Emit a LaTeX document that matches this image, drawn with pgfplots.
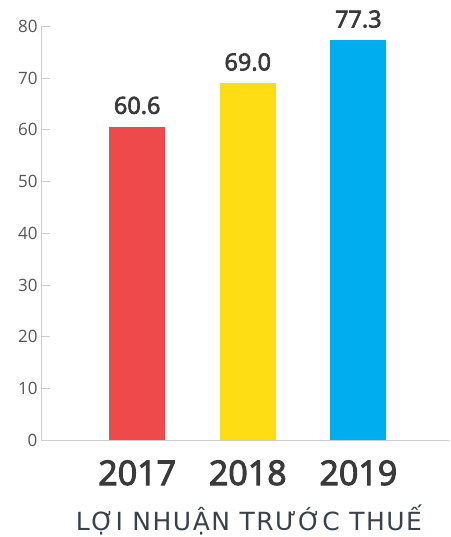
\documentclass[border=0pt]{standalone}
\usepackage{fontspec}
\setmainfont{Open Sans}
\newfontfamily\sbfont{Open Sans}[FakeBold=3]
\newfontfamily\ttlfont{DejaVu Sans}[LetterSpace=6]
\usepackage{pgfplots}
\pgfplotsset{compat=1.18}
\definecolor{cred}{HTML}{EF4A4B}
\definecolor{cyel}{HTML}{FFDD15}
\definecolor{cblue}{HTML}{00AEEF}
\definecolor{axgray}{HTML}{CCCCCC}
\definecolor{tickgray}{HTML}{555555}
\definecolor{txt}{HTML}{3A3A3A}
\definecolor{ttl}{HTML}{3B4148}
\begin{document}
\begin{tikzpicture}
\begin{axis}[
  at={(0pt,0pt)}, anchor=south west,
  scale only axis, width=408pt, height=413.5pt,
  xmin=-0.87, xmax=2.82, ymin=0, ymax=80,
  axis lines*=left,
  axis line style={axgray, line width=0.8pt},
  ytick={0,10,...,80},
  xtick={0,1,2}, xticklabels={2017,2018,2019},
  tick align=inside,
  major tick length=9pt,
  tick style={axgray, line width=0.8pt},
  x tick style={draw=none},
  /pgf/number format/assume math mode=true,
  yticklabel style={font=\fontsize{17}{17}\selectfont, text=tickgray},
  xticklabel style={font=\fontsize{34}{34}\selectfont\sbfont, text=txt, anchor=base, yshift=-36pt},
  ybar, bar width=56pt,
  nodes near coords,
  nodes near coords style={font=\fontsize{23.5}{23.5}\selectfont\sbfont, text=txt, anchor=base, yshift=13pt,
    /pgf/number format/.cd, fixed, fixed zerofill, precision=1},
]
\addplot[fill=cred, draw=none, bar shift=0pt] coordinates {(0,60.6)};
\addplot[fill=cyel, draw=none, bar shift=0pt] coordinates {(1,69.0)};
\addplot[fill=cblue, draw=none, bar shift=0pt] coordinates {(2,77.3)};
\end{axis}
\node[anchor=base, text=ttl, font=\fontsize{25}{25}\selectfont\ttlfont] at (208pt,-90pt) {LỢI NHUẬN TRƯỚC THUẾ};
\pgfresetboundingbox
\path (-41pt,-97pt) rectangle (409pt,440pt);
\end{tikzpicture}
\end{document}
